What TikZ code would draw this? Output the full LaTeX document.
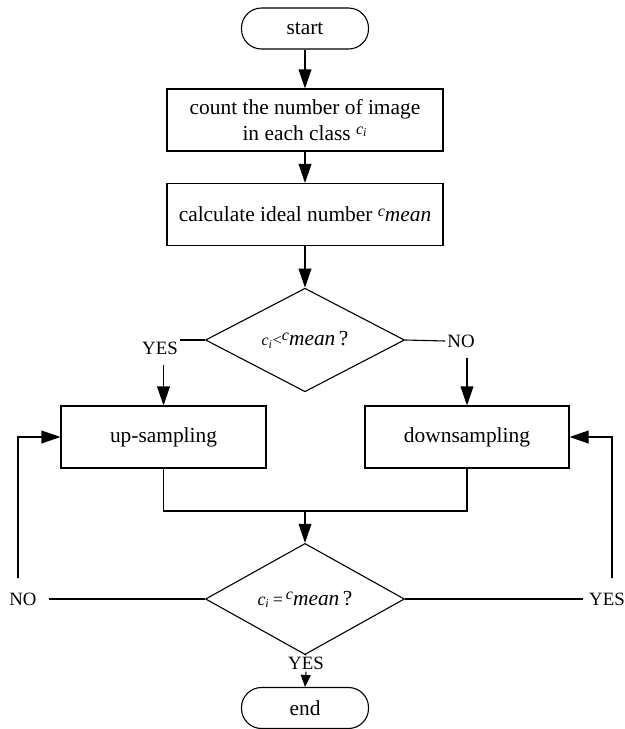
\documentclass[tikz,border=0pt]{standalone}
\usepackage{fontspec}
\setmainfont{Liberation Serif}
\usetikzlibrary{shapes.geometric,arrows.meta}

\newcommand{\ci}{\textit{c}\textsubscript{\textit{i}}}
\newcommand{\cmean}{\raisebox{0.55ex}{\footnotesize\textit{c}}\textit{mean}}

\begin{document}
\begin{tikzpicture}[x=0.5pt, y=-0.5pt, >={Triangle[length=9.5pt,width=6.4pt]},
    every node/.style={font=\fontsize{10.7}{12.8}\selectfont},
    box/.style={draw, line width=0.55pt, minimum height=31pt, align=center,
      inner sep=2pt},
    terminal/.style={draw, line width=0.55pt, rounded corners=10pt,
      minimum width=63.5pt, minimum height=20.5pt},
    decision/.style={draw, diamond, line width=0.55pt, minimum width=99.5pt,
      minimum height=47pt, inner sep=0pt},
    tag/.style={inner sep=1pt, font=\fontsize{9.4}{11}\selectfont},
    link/.style={line width=0.55pt}, flow/.style={link, ->} ]
  \useasboundingbox (0,0) rectangle (625,729);
  % main column
  \node[terminal] (start) at (305,28.5) {start};
  \node[box, minimum width=138pt] (count) at (305,120)
    {count the number of image\\ in each class \raisebox{0.6ex}{\footnotesize\ci}};
  \node[box, minimum width=138pt] (ideal) at (305,214.5)
    {calculate ideal number \cmean};
  \node[decision] (less) at (305,340) {{\footnotesize\ci<}\cmean\,?};
  \node[box, minimum width=102.5pt] (up) at (163.5,437) {up-sampling};
  \node[box, minimum width=102pt] (down) at (467,437) {downsampling};
  \coordinate (join) at (305,511);
  \node[decision] (equal) at (305,599) {{\small\ci\,=\,}\cmean\,?};
  \node[terminal] (end) at (305,708) {end};
  % branch labels
  \node[tag] (yes1) at (160,348) {YES};
  \node[tag] (no1) at (461,341) {NO};
  \node[tag] (no2) at (23,599) {NO};
  \node[tag] (yes2) at (607,599) {YES};
  \node[tag] (yes3) at (306,663) {YES};
  % connectors
  \draw[flow] (start) -- (count);
  \draw[flow] (count) -- (ideal);
  \draw[flow] (ideal) -- (less);
  \draw[link] (less.west) -- (less.west -| yes1.east);
  \draw[flow, shorten <=4pt] (yes1.south -| up.north) -- (up.north);
  \draw[link] (less.east) -- (no1.west);
  \draw[flow, shorten <=4pt] (no1.south -| down.north) -- (down.north);
  \draw[link] (up.south) |- (join) -| (down.south);
  \draw[flow] (join) -- (equal.north);
  \draw[link, shorten >=5pt] (equal.west) -- (no2.east);
  \draw[flow, shorten <=6pt] ([xshift=-2.5pt]no2.north) |- (up.west);
  \draw[link, shorten >=2pt] (equal.east) -- (yes2.west);
  \draw[flow, shorten <=6pt] ([xshift=2.5pt]yes2.north) |- (down.east);
  \draw[link] (equal.south) -- (yes3.north);
  \draw[link, -{Triangle[length=6pt,width=5pt]}] (yes3.south) -- (end.north);
\end{tikzpicture}
\end{document}
